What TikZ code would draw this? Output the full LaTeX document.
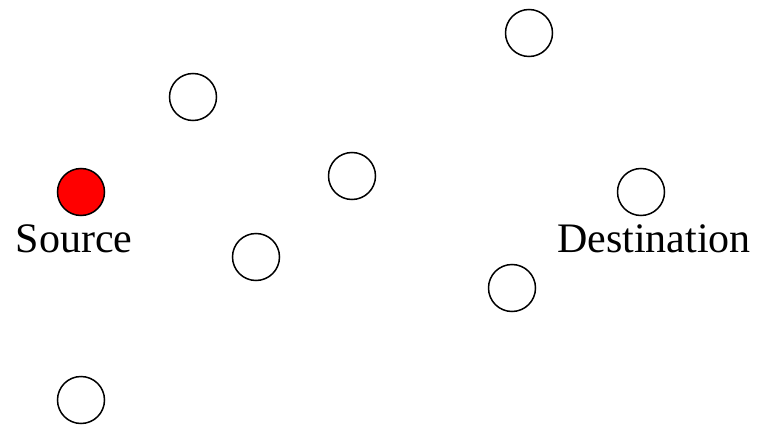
\documentclass[tikz,border=0pt]{standalone}
\usepackage{fontspec}
\setmainfont{Liberation Serif}
\tikzset{
  nd/.style={circle, draw=black, line width=1.5pt, minimum size=47pt, inner sep=0pt, fill=white},
  src/.style={nd, fill=red},
  lbl/.style={anchor=base, inner sep=0pt, font=\fontsize{42pt}{48pt}\selectfont}
}
\begin{document}
\begin{tikzpicture}[x=1pt,y=-1pt]
\useasboundingbox (0,0) rectangle (757,425);
\node[nd] (n1) at (529,33) {};
\node[nd] (n2) at (193,97) {};
\node[nd] (n3) at (352,176) {};
\node[src] (s) at (81,192) {};
\node[nd] (d) at (641,192) {};
\node[nd] (n4) at (256,257) {};
\node[nd] (n5) at (512,288) {};
\node[nd] (n6) at (81,400) {};
\node[lbl] (sl) at (74,252) {Source};
\node[lbl] (dl) at (654,252) {Destination};
\end{tikzpicture}
\end{document}
